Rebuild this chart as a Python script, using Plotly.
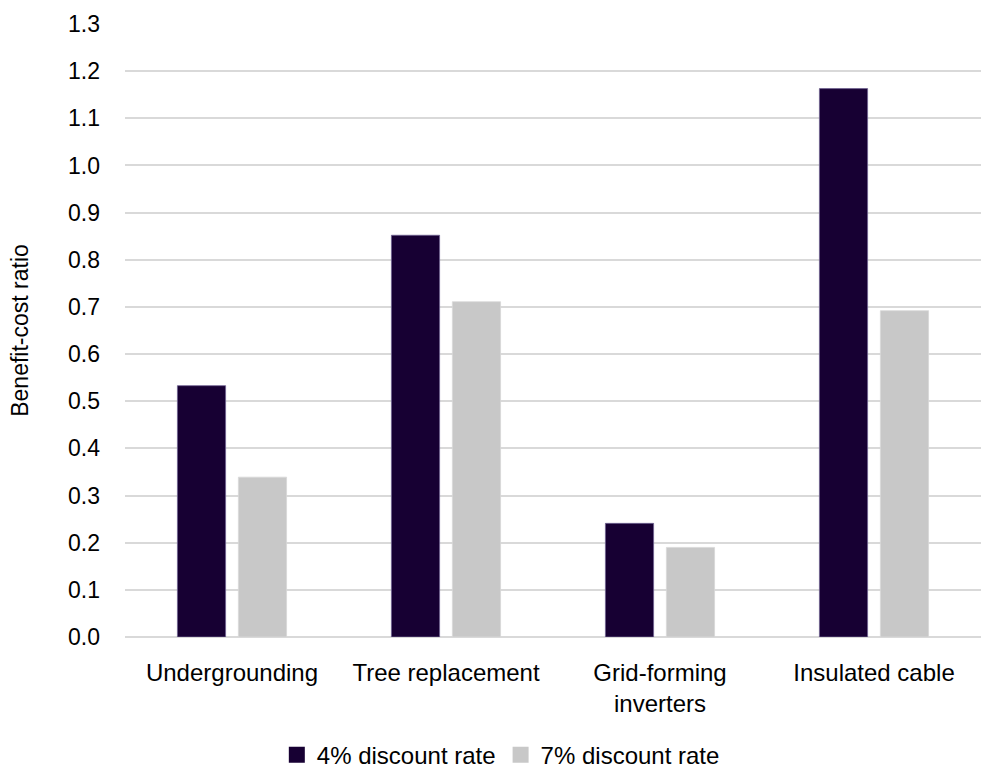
import plotly.graph_objects as go

categories = ["Undergrounding", "Tree replacement", "Grid-forming<br>inverters", "Insulated cable"]
rate4 = [0.533, 0.852, 0.241, 1.163]
rate7 = [0.339, 0.711, 0.190, 0.692]
series_names = ["4% discount rate", "7% discount rate"]
colors = ["#170033", "#C8C8C8"]
tick_vals = [round(i * 0.1, 1) for i in range(14)]
tick_text = [f"{v:.1f}" for v in tick_vals]

FONT = "Liberation Sans, Arial, sans-serif"

fig = go.Figure()
fig.add_trace(go.Bar(x=categories, y=rate4, name=series_names[0], showlegend=False,
                     marker=dict(color=colors[0], line=dict(color="#6e6190", width=0.8))))
fig.add_trace(go.Bar(x=categories, y=rate7, name=series_names[1], showlegend=False,
                     marker=dict(color=colors[1], line=dict(color="#d8d8d8", width=0.8))))
# legend entries with larger square swatches
for name, col in zip(series_names, colors):
    fig.add_trace(go.Scatter(x=[None], y=[None], mode="markers", name=name,
                             marker=dict(symbol="square", size=16, color=col)))

fig.update_layout(
    width=982, height=776,
    margin=dict(l=125, r=1, t=24, b=138.5),
    paper_bgcolor="white", plot_bgcolor="white",
    barmode="group", bargap=0.43, bargroupgap=0.21,
    font=dict(family=FONT, size=24, color="#000000"),
    showlegend=True,
    legend=dict(orientation="h", xref="container", yref="container",
                x=0.51, xanchor="center", y=0.027, yanchor="middle",
                font=dict(size=24), itemwidth=30, traceorder="normal",
                tracegroupgap=0),
    xaxis=dict(showgrid=False, showline=False, zeroline=False,
               tickfont=dict(size=24), ticklabelstandoff=19),
    yaxis=dict(range=[0, 1.3], tickvals=tick_vals, ticktext=tick_text,
               showgrid=True, gridcolor="#D9D9D9", gridwidth=1.5,
               zeroline=True, zerolinecolor="#D9D9D9", zerolinewidth=1.5,
               showline=False, tickfont=dict(size=23), ticklabelstandoff=24,
               title=dict(text="Benefit-cost ratio", font=dict(size=23), standoff=32)),
)

fig.write_html("out.html")
